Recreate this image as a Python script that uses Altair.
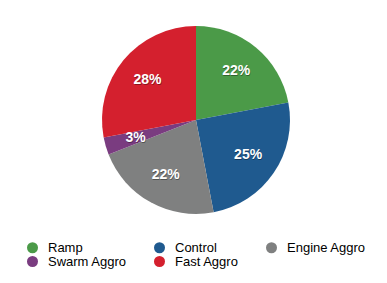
import altair as alt
import pandas as pd

categories = ["Ramp", "Control", "Engine Aggro", "Swarm Aggro", "Fast Aggro"]
values = [22, 25, 22, 3, 28]
colors = ["#4b9a48", "#1f5a8f", "#7f8080", "#7a3c80", "#d4202e"]

df = pd.DataFrame({"category": categories, "value": values, "order": list(range(len(categories)))})

base = alt.Chart(df).transform_calculate(
    label="datum.value + '%'"
).encode(
    theta=alt.Theta("value:Q", stack=True),
    order=alt.Order("order:Q"),
    x=alt.value(196),
    y=alt.value(120),
)

pie = base.mark_arc(outerRadius=94, stroke=None).encode(
    color=alt.Color(
        "category:N",
        scale=alt.Scale(domain=categories, range=colors),
        sort=categories,
        legend=alt.Legend(
            title=None,
            orient="none",
            direction="horizontal",
            legendX=26,
            legendY=241,
            columns=3,
            symbolType="circle",
            symbolSize=121,
            symbolOpacity=1,
            symbolStrokeWidth=0,
            labelFontSize=13,
            labelFont="Liberation Sans",
            labelColor="#000000",
            labelOffset=9,
            columnPadding=26,
            rowPadding=-2,
            padding=0,
        ),
    )
)

shadow = base.mark_text(radius=63, fontSize=14, fontWeight="bold", font="Liberation Sans",
                        color="#000000", opacity=0.35, dx=0.5, dy=1).encode(text="label:N")
labels = base.mark_text(radius=63, fontSize=14, fontWeight="bold", font="Liberation Sans",
                        color="#ffffff").encode(text="label:N")

chart = alt.layer(pie, shadow, labels).properties(
    width=387, height=283, padding=0, autosize=alt.AutoSizeParams(type="none")
).configure_view(stroke=None)

chart.save("out.html", embed_options={"renderer": "svg", "actions": False})
